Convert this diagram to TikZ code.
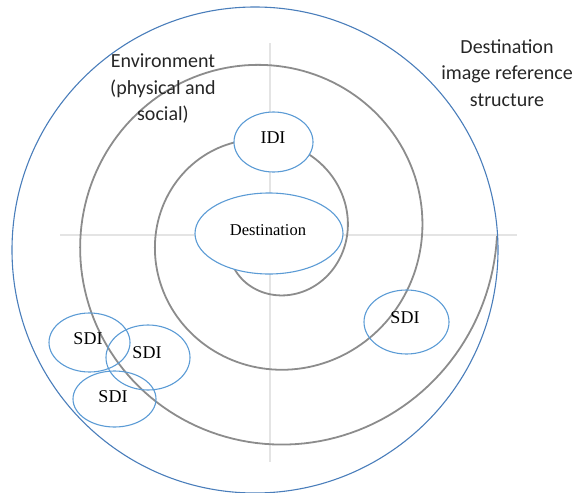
\documentclass[tikz,border=0pt]{standalone}
\usepackage{fontspec}
\setmainfont{Liberation Serif}
\newfontfamily\labelsans{Carlito}
\usetikzlibrary{shapes.geometric}

\definecolor{ringblue}{HTML}{4A7EBB}
\definecolor{ellblue}{HTML}{5B9BD5}
\definecolor{spiralgray}{HTML}{8C8C8C}
\definecolor{axisgray}{HTML}{E4E4E4}

\tikzset{
  imgell/.style={draw=ellblue, line width=1.1pt, ellipse, inner sep=0pt},
  axisline/.style={draw=axisgray, line width=1.8pt},
  spiralline/.style={draw=spiralgray, line width=1.8pt},
  sdilabel/.style={font=\fontsize{18}{20}\selectfont},
  caption/.style={font=\labelsans\fontsize{20}{26.5}\selectfont, align=center, text=black!85}
}

\begin{document}
\begin{tikzpicture}[x=1pt, y=-1pt]
  \useasboundingbox (0,0) rectangle (574,493);

  % cross axes
  \coordinate (hl) at (60,235);
  \coordinate (hr) at (517,235);
  \coordinate (vt) at (270,43);
  \coordinate (vb) at (270,462);
  \draw[axisline] (hl) -- (hr);
  \draw[axisline] (vt) -- (vb);

  % spiral of reference layers: radius grows 75 per turn
  \draw[spiralline] plot[domain=-150:720, samples=400]
    ({270+(77+0.208333*\x)*cos(\x)}, {236-(77+0.208333*\x)*sin(\x)});

  % outer boundary
  \draw[ringblue, line width=1.1pt] (255,250) circle (243);

  % core ellipses
  \node[imgell, fill=white, minimum width=148pt, minimum height=81pt] (dest) at (269,233.5) {};
  \node[font=\fontsize{16.5}{18}\selectfont] (destlbl) at (268,230) {Destination};
  \node[imgell, fill=white, minimum width=79pt, minimum height=60pt] (idi) at (273.5,142) {};
  \node[sdilabel] (idilbl) at (273,138) {IDI};

  % secondary image ellipses
  \node[imgell, minimum width=85pt, minimum height=64pt] (sdiR) at (406.5,322) {};
  \node[sdilabel] at (405,318) {SDI};
  \node[imgell, minimum width=81pt, minimum height=59pt] (sdiA) at (89.5,342.5) {};
  \node[sdilabel] at (88,339) {SDI};
  \node[imgell, minimum width=84pt, minimum height=65pt] (sdiB) at (148,357.5) {};
  \node[sdilabel] at (147,353) {SDI};
  \node[imgell, minimum width=83pt, minimum height=56pt] (sdiC) at (114.5,399) {};
  \node[sdilabel] at (113,397) {SDI};

  % captions
  \node[caption] (env) at (163,89) {Environment\\(physical and\\social)};
  \node[caption] (ref) at (507,73) {Destination\\image reference\\structure};
\end{tikzpicture}
\end{document}
